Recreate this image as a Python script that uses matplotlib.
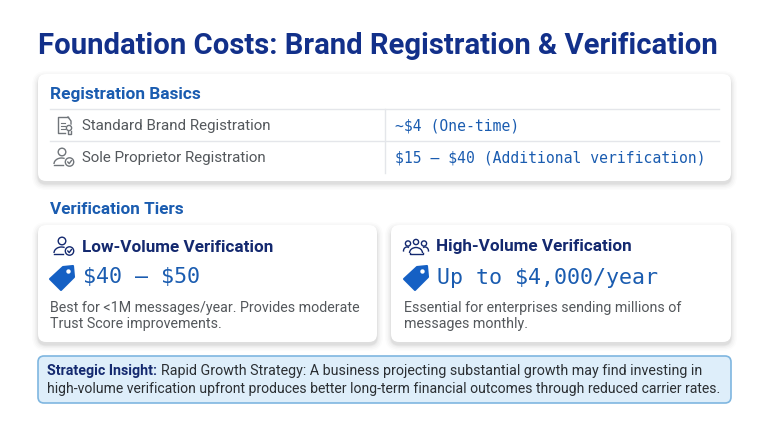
"""Foundation costs slide: brand registration and verification tiers."""
import matplotlib
matplotlib.use("Agg")
import matplotlib.pyplot as plt
from matplotlib.patches import FancyBboxPatch, Circle, Polygon, Arc

W, H = 768, 429

title = "Foundation Costs: Brand Registration & Verification"
basics_heading = "Registration Basics"
basics_names = ["Standard Brand Registration", "Sole Proprietor Registration"]
basics_costs = ["~$4 (One-time)", "$15 – $40 (Additional verification)"]
tiers_heading = "Verification Tiers"
tier_names = ["Low-Volume Verification", "High-Volume Verification"]
tier_prices = ["$40 – $50", "Up to $4,000/year"]
tier_notes = [
    "Best for <1M messages/year. Provides moderate\nTrust Score improvements.",
    "Essential for enterprises sending millions of\nmessages monthly.",
]
insight_label = "Strategic Insight:"
insight_line1 = "Rapid Growth Strategy: A business projecting substantial growth may find investing in"
insight_line2 = "high-volume verification upfront produces better long-term financial outcomes through reduced carrier rates."

NAVY = "#14296f"
TITLE = "#12308a"
BLUE = "#1a5cb0"
TAG = "#1560c4"
GREY = "#54585c"
ICON = "#70757a"
RULE = "#e4e6ea"

SANS = "Roboto"
MONO = "DejaVu Sans Mono"


def card(ax, x0, y0, x1, y1, r=8, fc="white", ec="none", lw=0, shadow=True):
    if shadow:
        for grow, a in [(6, 0.012), (4.5, 0.018), (3, 0.025), (1.5, 0.035), (0.5, 0.04)]:
            ax.add_patch(FancyBboxPatch((x0 - grow, y0 - grow + 3), x1 - x0 + 2 * grow, y1 - y0 + 2 * grow,
                                        boxstyle=f"round,pad=0,rounding_size={r + grow}",
                                        fc="black", ec="none", alpha=a))
    ax.add_patch(FancyBboxPatch((x0, y0), x1 - x0, y1 - y0, boxstyle=f"round,pad=0,rounding_size={r}",
                                fc=fc, ec=ec, lw=lw))


def person(ax, cx, cy, color, lw=1.0):
    # head + shoulders, badge sits lower right
    ax.add_patch(Circle((cx, cy - 5), 3.8, fc="none", ec=color, lw=lw))
    ax.add_patch(Arc((cx - 0.5, cy + 7), 15, 12, theta1=180, theta2=300, ec=color, lw=lw))
    ax.plot([cx - 8, cx + 1], [cy + 8, cy + 8], color=color, lw=lw)
    ax.add_patch(Circle((cx + 7.5, cy + 5), 4.2, fc="white", ec=color, lw=lw))
    ax.plot([cx + 5.8, cx + 7.2, cx + 9.4], [cy + 5, cy + 6.6, cy + 3.6], color=color, lw=lw)


def document(ax, cx, cy, color, lw=1.0):
    ax.plot([cx + 4, cx - 6, cx - 6, cx + 1], [cy - 8, cy - 8, cy + 8, cy + 8], color=color, lw=lw)
    ax.plot([cx + 4, cx + 7, cx + 7], [cy - 8, cy - 4, cy - 1], color=color, lw=lw)
    for dy in (-2, 1, 4):
        ax.plot([cx - 3.5, cx + 1], [cy + dy, cy + dy], color=color, lw=lw * 0.8)
    ax.add_patch(Circle((cx + 5, cy + 3), 2.6, fc="white", ec=color, lw=lw))
    ax.plot([cx + 3.5, cx + 3.5, cx + 6.5, cx + 6.5], [cy + 5.5, cy + 9, cy + 9, cy + 5.5], color=color, lw=lw)


def group(ax, cx, cy, color, lw=1.0):
    for dx, dy in [(-8, -2.5), (8, -2.5), (0, -4)]:
        ax.add_patch(Circle((cx + dx, cy + dy), 2.6, fc="none", ec=color, lw=lw))
    ax.add_patch(Arc((cx, cy + 7), 13, 11, theta1=180, theta2=360, ec=color, lw=lw))
    ax.plot([cx - 6.5, cx - 6.5, cx + 6.5, cx + 6.5], [cy + 7, cy + 8, cy + 8, cy + 7], color=color, lw=lw)
    ax.add_patch(Arc((cx - 9, cy + 5), 7, 8, theta1=170, theta2=300, ec=color, lw=lw))
    ax.add_patch(Arc((cx + 9, cy + 5), 7, 8, theta1=240, theta2=10, ec=color, lw=lw))


def tag(ax, cx, cy, color):
    pts = [(cx + 11, cy - 12), (cx + 12, cy - 1), (cx - 1, cy + 12), (cx - 12, cy + 1), (cx + 1, cy - 11)]
    ax.add_patch(Polygon(pts, closed=True, fc=color, ec=color, lw=1.5, joinstyle="round"))
    ax.add_patch(Circle((cx + 6.5, cy - 6.5), 2.2, fc="white", ec="none"))


fig = plt.figure(figsize=(W / 100, H / 100), dpi=100, facecolor="white")
ax = fig.add_axes([0, 0, 1, 1])
ax.set_xlim(0, W)
ax.set_ylim(H, 0)
ax.axis("off")

ax.text(38, 46.5, title, fontsize=21.1, fontweight="bold", color=TITLE, family=SANS, va="center", ha="left")

# ---- registration basics ----
card(ax, 38, 74, 731, 181)
ax.text(50, 94, basics_heading, fontsize=12.4, fontweight="bold", color=BLUE, family=SANS, va="center")
for y in (109, 141):
    ax.plot([50, 719], [y, y], color=RULE, lw=1)
ax.plot([384.5, 384.5], [109, 173], color=RULE, lw=1)
document(ax, 64, 125, ICON)
person(ax, 62, 157, ICON)
for y, name, cost in zip((126, 158), basics_names, basics_costs):
    ax.text(82, y, name, fontsize=10.9, color=GREY, family=SANS, va="center")
    ax.text(395, y, cost, fontsize=10.6, color=BLUE, family=MONO, va="center", parse_math=False)

# ---- verification tiers ----
ax.text(50, 209.5, tiers_heading, fontsize=12.3, fontweight="bold", color=BLUE, family=SANS, va="center")
card(ax, 38, 225, 377, 342)
card(ax, 391, 225, 731, 342)
person(ax, 62, 246, NAVY)
group(ax, 416, 246, NAVY)
for x, name, price, note in zip((50, 404), tier_names, tier_prices, tier_notes):
    ax.text(x + 32, 247, name, fontsize=12.3, fontweight="bold", color=NAVY, family=SANS, va="center")
    tag(ax, x + 12, 278, TAG)
    ax.text(x + 33, 277.5, price, fontsize=15.6, color=BLUE, family=MONO, va="center", parse_math=False)
    ax.text(x, 316, note, fontsize=10.3, color=GREY, family=SANS, va="center", linespacing=1.2)

# ---- insight ----
card(ax, 38, 356, 731, 403, r=6, fc="#deeefa", ec="#7fb6e0", lw=1.2, shadow=False)
label = ax.text(47, 371, insight_label, fontsize=10.2, fontweight="bold", color=NAVY, family=SANS, va="center")
fig.canvas.draw()
bb = label.get_window_extent()
ax.text(bb.x1 + 4, 371, insight_line1, fontsize=10.3, color="#2b2f33", family=SANS, va="center")
ax.text(47, 389, insight_line2, fontsize=10.08, color="#2b2f33", family=SANS, va="center")

fig.savefig("out.png", dpi=100, facecolor="white")
plt.close(fig)
